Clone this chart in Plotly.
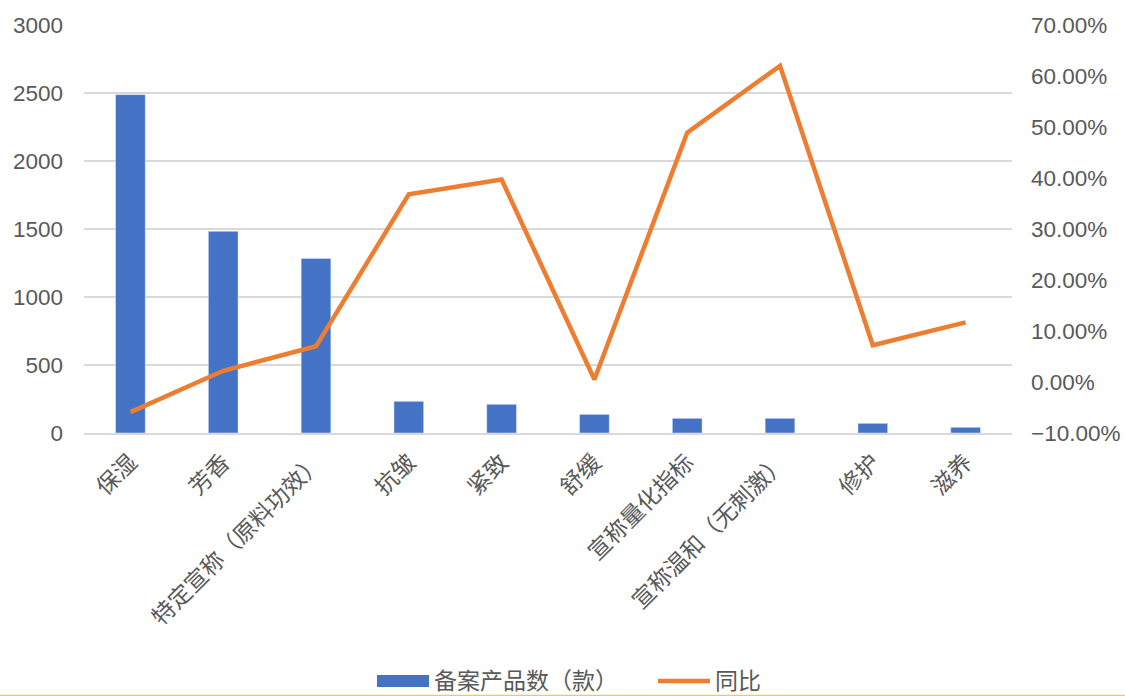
import plotly.graph_objects as go

categories = ["保湿", "芳香", "特定宣称（原料功效）", "抗皱", "紧致", "舒缓",
              "宣称量化指标", "宣称温和（无刺激）", "修护", "滋养"]
counts = [2488, 1483, 1284, 233, 211, 137, 108, 108, 71, 42]
yoy = [-0.059, 0.022, 0.070, 0.368, 0.397, 0.005, 0.489, 0.620, 0.072, 0.117]
left_ticks = [0, 500, 1000, 1500, 2000, 2500, 3000]
right_ticks = [-0.1, 0.0, 0.1, 0.2, 0.3, 0.4, 0.5, 0.6, 0.7]
bar_name = "备案产品数（款）"
line_name = "同比"

W, H = 1125, 696
L, R, T, B = 84, 113, 25, 263
PW, PH = W - L - R, H - T - B


def px(x):
    return (x - L) / PW


def py(y):
    return (H - B - y) / PH


FONT = "Liberation Sans, Arial, Noto Sans CJK SC, sans-serif"
TXT = "#595959"
FS = 22.5

fig = go.Figure()
fig.add_trace(go.Bar(x=categories, y=counts, name=bar_name, marker_color="#4472C4",
                     showlegend=False, yaxis="y"))
fig.add_trace(go.Scatter(x=categories, y=yoy, name=line_name, mode="lines",
                         line=dict(color="#ED7D31", width=4.5), showlegend=False,
                         yaxis="y2"))

fig.update_layout(
    width=W, height=H,
    margin=dict(l=L, r=R, t=T, b=B, autoexpand=False),
    paper_bgcolor="white", plot_bgcolor="white",
    font=dict(family=FONT, size=FS, color=TXT),
    bargap=0.68,
    xaxis=dict(tickangle=-45, showgrid=False, showline=True, linecolor="#D9D9D9",
               linewidth=1.5, tickfont=dict(size=23, color=TXT), ticks="",
               ticklabelstandoff=5, automargin=False),
    yaxis=dict(range=[0, 3000], tickvals=left_ticks, showgrid=True, gridcolor="#D9D9D9",
               gridwidth=1.5, zeroline=False, showline=False, ticks="",
               ticklabelstandoff=20, tickfont=dict(size=FS, color=TXT), automargin=False),
    yaxis2=dict(range=[-0.1, 0.7], tickvals=right_ticks, tickformat=".2%", overlaying="y",
                side="right", showgrid=False, zeroline=False, showline=False, ticks="",
                ticklabelstandoff=18, tickfont=dict(size=FS, color=TXT), automargin=False),
)

# custom legend
LEG_Y = 681
fig.add_shape(type="rect", xref="paper", yref="paper", x0=px(377), x1=px(429),
              y0=py(LEG_Y + 6), y1=py(LEG_Y - 6), fillcolor="#4472C4", line_width=0)
fig.add_annotation(text=bar_name, xref="paper", yref="paper", x=px(433), y=py(LEG_Y),
                   xanchor="left", yanchor="middle", showarrow=False,
                   font=dict(size=23, color=TXT), borderpad=0)
fig.add_shape(type="line", xref="paper", yref="paper", x0=px(658), x1=px(710),
              y0=py(LEG_Y), y1=py(LEG_Y), line=dict(color="#ED7D31", width=4.5))
fig.add_annotation(text=line_name, xref="paper", yref="paper", x=px(714), y=py(LEG_Y),
                   xanchor="left", yanchor="middle", showarrow=False,
                   font=dict(size=23, color=TXT), borderpad=0)

# bottom border line
fig.add_shape(type="line", xref="paper", yref="paper", x0=px(0), x1=px(W),
              y0=py(695.5), y1=py(695.5), line=dict(color="#F2CF3A", width=1.5))

fig.write_html("out.html")
